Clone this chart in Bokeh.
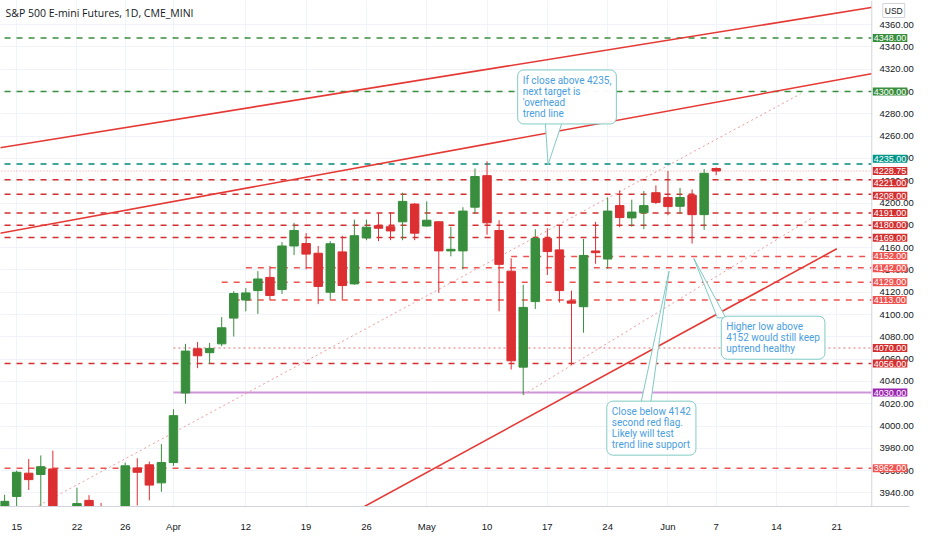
import pandas as pd
from bokeh.plotting import figure
from bokeh.models import (ColumnDataSource, FixedTicker, PrintfTickFormatter, Label, Range1d,
                          BoxAnnotation, Span)
from bokeh.embed import file_html
from bokeh.resources import INLINE

# ES (S&P 500 E-mini) daily bars
dates = ["2021-03-12", "2021-03-15", "2021-03-16", "2021-03-17", "2021-03-18", "2021-03-19",
         "2021-03-22", "2021-03-23", "2021-03-24", "2021-03-25", "2021-03-26", "2021-03-29",
         "2021-03-30", "2021-03-31", "2021-04-01", "2021-04-05", "2021-04-06", "2021-04-07",
         "2021-04-08", "2021-04-09", "2021-04-12", "2021-04-13", "2021-04-14", "2021-04-15",
         "2021-04-16", "2021-04-19", "2021-04-20", "2021-04-21", "2021-04-22", "2021-04-23",
         "2021-04-26", "2021-04-27", "2021-04-28", "2021-04-29", "2021-04-30", "2021-05-03",
         "2021-05-04", "2021-05-05", "2021-05-06", "2021-05-07", "2021-05-10", "2021-05-11",
         "2021-05-12", "2021-05-13", "2021-05-14", "2021-05-17", "2021-05-18", "2021-05-19",
         "2021-05-20", "2021-05-21", "2021-05-24", "2021-05-25", "2021-05-26", "2021-05-27",
         "2021-05-28", "2021-06-01", "2021-06-02", "2021-06-03", "2021-06-04", "2021-06-07"]
opens = [3927.6, 3936.8, 3957.7, 3956.5, 3961.5, 3915.0, 3905.0, 3933.3, 3905.0, 3885.0,
         3905.0, 3962.4, 3965.2, 3949.0, 3967.2, 4029.6, 4069.3, 4065.8, 4073.7, 4096.8,
         4113.0, 4121.5, 4133.3, 4122.4, 4161.5, 4163.7, 4155.0, 4120.0, 4156.2, 4127.5,
         4168.7, 4179.7, 4178.8, 4183.2, 4199.1, 4179.4, 4183.2, 4157.1, 4157.1, 4196.3,
         4224.6, 4175.4, 4138.9, 4052.8, 4111.6, 4168.1, 4158.0, 4112.2, 4107.0, 4157.0,
         4149.8, 4197.7, 4186.7, 4191.3, 4209.3, 4205.0, 4197.1, 4207.0, 4189.6, 4231.0]
highs = [3938.3, 3960.0, 3970.4, 3973.6, 3978.0, 3924.0, 3944.6, 3938.0, 3931.0, 3915.0,
         3967.2, 3971.1, 3968.1, 3983.8, 4015.0, 4073.7, 4075.4, 4074.5, 4097.7, 4120.9,
         4123.7, 4138.9, 4143.5, 4165.0, 4182.3, 4173.0, 4161.5, 4165.8, 4170.7, 4185.2,
         4185.2, 4191.0, 4191.9, 4209.3, 4200.0, 4201.5, 4183.5, 4178.8, 4196.3, 4231.0,
         4237.4, 4184.6, 4150.4, 4126.7, 4176.5, 4177.4, 4179.4, 4121.5, 4167.8, 4183.2,
         4205.0, 4211.3, 4203.0, 4210.8, 4215.9, 4228.7, 4213.6, 4212.2, 4230.4, 4232.0]
lows = [3915.0, 3918.0, 3942.6, 3925.0, 3900.0, 3880.0, 3895.0, 3895.0, 3870.0, 3850.0,
        3895.0, 3928.7, 3933.3, 3941.0, 3964.3, 4020.0, 4051.9, 4055.7, 4071.6, 4080.3,
        4102.9, 4100.6, 4112.8, 4118.5, 4153.3, 4140.6, 4109.3, 4113.7, 4113.7, 4126.7,
        4166.7, 4165.8, 4166.7, 4166.7, 4166.7, 4178.8, 4119.4, 4152.2, 4140.6, 4190.4,
        4171.6, 4102.9, 4050.7, 4028.0, 4105.0, 4135.4, 4110.7, 4054.8, 4083.7, 4145.5,
        4141.0, 4178.3, 4178.8, 4176.5, 4199.1, 4189.0, 4190.4, 4163.7, 4176.0, 4225.0]
closes = [3932.4, 3958.5, 3951.9, 3963.5, 3912.0, 3905.0, 3930.4, 3900.0, 3885.0, 3900.0,
          3964.3, 3958.5, 3947.0, 3967.2, 4009.3, 4067.2, 4063.0, 4069.6, 4088.1, 4118.9,
          4119.4, 4131.9, 4117.1, 4161.5, 4175.4, 4154.2, 4125.2, 4163.5, 4126.0, 4170.7,
          4178.3, 4177.4, 4175.0, 4201.5, 4173.0, 4184.6, 4157.1, 4158.5, 4192.8, 4223.8,
          4182.3, 4145.0, 4058.5, 4106.4, 4168.1, 4156.5, 4121.5, 4110.2, 4153.0, 4155.5,
          4192.8, 4187.0, 4191.9, 4197.7, 4200.6, 4196.8, 4205.0, 4189.6, 4226.7, 4228.75]

# time axis labels
tick_dates = ["2021-03-15", "2021-03-22", "2021-03-26", "2021-04-01", "2021-04-12", "2021-04-19",
              "2021-04-26", "2021-05-03", "2021-05-10", "2021-05-17", "2021-05-24", "2021-06-01",
              "2021-06-07", "2021-06-14", "2021-06-21"]
tick_labels = ["15", "22", "26", "Apr", "12", "19", "26", "May", "10", "17", "24", "Jun", "7", "14", "21"]
price_ticks = list(range(3940, 4380, 20))

# horizontal levels: price, kind, first day
level_prices = [4348, 4300, 4235, 4228.75, 4221, 4208, 4191, 4180, 4169,
                4152, 4142, 4129, 4113, 4070, 4056, 4030, 3962]
level_kinds = ["green", "green", "teal", "last", "red", "red", "red", "red", "red",
               "light", "light", "light", "light", "dot", "red", "purple", "light"]
level_starts = ["2021-03-11"] * 9 + ["2021-05-12", "2021-04-12", "2021-04-08", "2021-04-09",
                                     "2021-04-01", "2021-03-11", "2021-04-01", "2021-03-11"]

# trend lines: (day, price) -> (day, price)
trend_solid = [(("2021-03-11", 4248.5), ("2021-06-25", 4377.4)),
               (("2021-03-11", 4171.7), ("2021-06-25", 4318.2)),
               (("2021-04-22", 3917.0), ("2021-06-21", 4159.0))]
trend_dotted = [(("2021-03-15", 3918.0), ("2021-06-16", 4298.0)),
                (("2021-05-13", 4028.0), ("2021-06-17", 4187.0))]

# text notes: text anchor (bar, price), pointer tip and pointer base
callouts = [
    dict(text="If close above 4235,\nnext target is\n'overhead\ntrend line",
         left=43.54, top=4319.4, tip=(46.06, 4234.5), base=[(45.8, 4278), (47.4, 4278)]),
    dict(text="Higher low above\n4152 would still keep\nuptrend healthy",
         left=60.42, top=4098.5, tip=(58.14, 4150.4), base=[(60.1, 4097), (60.8, 4097)]),
    dict(text="Close below 4142\nsecond red flag.\nLikely will test\ntrend line support",
         left=50.93, top=4022.3, tip=(56.09, 4138.9), base=[(53.75, 4020), (54.56, 4020)]),
]

UP, DOWN = "#388e3c", "#dc2f32"
styles = {
    "green": dict(color="#388e3c", dash="6 6", width=1.5, tag="#388e3c"),
    "teal": dict(color="#00897b", dash="6 6", width=1.5, tag="#009688"),
    "last": dict(color="#ef9a9a", dash="1 2", width=1, tag="#d32f2f"),
    "red": dict(color="#d32f2f", dash="6 6", width=1.5, tag="#d32f2f"),
    "light": dict(color="#ef5350", dash="6 6", width=1.5, tag="#ef5350"),
    "dot": dict(color="#e57373", dash="2 3", width=1.2, tag="#d32f2f"),
    "purple": dict(color="#ce93d8", dash="solid", width=2, tag="#9c27b0"),
}

holidays = pd.to_datetime(["2021-04-02", "2021-05-31"])
days = pd.bdate_range("2021-03-11", "2021-06-30").drop(holidays)
pos = {d.strftime("%Y-%m-%d"): i for i, d in enumerate(days)}

W, H = 916, 534
scale_w = 38                      # width of the price scale strip
bars_visible = 72.24
x0 = pos["2021-03-15"] - 1.34
sep = x0 + bars_visible           # where the price scale starts
x1 = x0 + bars_visible * W / (W - scale_w)
y0, y1 = 3927.8, 4381.7
frame_h = H - 20


def spread(prices, gap):
    # push overlapping price tags apart, keeping each cluster centred
    order = sorted(range(len(prices)), key=lambda i: -prices[i])
    ys = [prices[i] for i in order]
    for _ in range(60):
        for k in range(len(ys) - 1):
            d = ys[k] - ys[k + 1]
            if d < gap:
                ys[k] += (gap - d) / 2
                ys[k + 1] -= (gap - d) / 2
    out = [0.0] * len(prices)
    for k, i in enumerate(order):
        out[i] = ys[k]
    return out


p = figure(width=W, height=H, x_range=Range1d(x0, x1), y_range=Range1d(y0, y1),
           y_axis_location="right", toolbar_location=None, output_backend="svg",
           min_border_left=0, min_border_top=0, min_border_right=0, min_border_bottom=20)
p.outline_line_color = None
p.background_fill_color = "white"

for g in (p.xgrid, p.ygrid):
    g.grid_line_color = "#f0f3fa"
p.xgrid.ticker = FixedTicker(ticks=[pos[d] for d in tick_dates])
p.ygrid.ticker = FixedTicker(ticks=price_ticks)

p.xaxis.ticker = FixedTicker(ticks=[pos[d] for d in tick_dates])
p.xaxis.major_label_overrides = {pos[d]: t for d, t in zip(tick_dates, tick_labels)}
p.yaxis.ticker = FixedTicker(ticks=price_ticks)
p.yaxis.formatter = PrintfTickFormatter(format="%.2f")
for ax in (p.xaxis, p.yaxis):
    ax.major_tick_line_color = None
    ax.minor_tick_line_color = None
    ax.major_label_text_font = "Liberation Sans"
    ax.major_label_text_font_size = "9.5px"
    ax.major_label_text_color = "#131722"
p.xaxis.axis_line_color = "#d1d4dc"
p.xaxis.major_label_standoff = 8
p.yaxis.axis_line_color = None
p.yaxis.major_label_standoff = -(scale_w - 2)   # labels sit inside the scale strip

# levels
for price, kind, start in zip(level_prices, level_kinds, level_starts):
    st = styles[kind]
    p.segment(x0=[pos[start]], y0=[price], x1=[sep], y1=[price], line_color=st["color"],
              line_dash=st["dash"], line_width=st["width"])

# trend lines
for (da, pa), (db, pb) in trend_dotted:
    p.line([pos[da], pos[db]], [pa, pb], line_color="#ef9a9a", line_dash="2 3", line_width=1)
for (da, pa), (db, pb) in trend_solid:
    p.line([pos[da], pos[db]], [pa, pb], line_color="#e53935", line_width=1.6)

# candles
xs = [pos[d] for d in dates]
src = ColumnDataSource(dict(
    x=xs, high=highs, low=lows,
    top=[max(o, c) for o, c in zip(opens, closes)],
    bottom=[min(o, c) for o, c in zip(opens, closes)],
    color=[UP if c >= o else DOWN for o, c in zip(opens, closes)],
))
p.segment(x0="x", y0="low", x1="x", y1="high", line_color="color", line_width=1, source=src)
p.vbar(x="x", width=0.7, top="top", bottom="bottom", fill_color="color", line_color="color", source=src)

# price scale strip covers anything drawn past the chart area
p.add_layout(BoxAnnotation(left=sep, fill_color="white", fill_alpha=1, line_color=None, level="glyph"))
p.add_layout(Span(location=sep, dimension="height", line_color="#d1d4dc", line_width=1))

# callouts
for c in callouts:
    (bx1, by1), (bx2, by2) = c["base"]
    p.patch([bx1, c["tip"][0], bx2], [by1, c["tip"][1], by2], fill_color="white",
            line_color="#80cbc4", line_width=1)
    p.add_layout(Label(x=c["left"], y=c["top"], text=c["text"], text_align="left", text_baseline="top",
                       text_font="Roboto", text_font_size="10px", text_color="#4a9ee0",
                       text_line_height=1.0, background_fill_color="white", background_fill_alpha=0.95,
                       border_line_color="#80cbc4", border_line_width=1, padding=5, border_radius=6))

# title
p.add_layout(Label(x=x0, y=y1, x_offset=5, y_offset=-5, text="S&P 500 E-mini Futures, 1D, CME_MINI",
                   text_align="left", text_baseline="top", text_font="Open Sans",
                   text_font_size="10.5px", text_color="#131722"))

# price tags on the scale
tag_y = spread(level_prices, 12.5 * (y1 - y0) / frame_h)
for price, ty, kind in zip(level_prices, tag_y, level_kinds):
    p.add_layout(Label(x=sep, y=ty, x_offset=1, text=f"{price:.2f}", text_align="left",
                       text_baseline="middle", text_font="Liberation Sans",
                       text_font_size="9px", text_color="white",
                       background_fill_color=styles[kind]["tag"], padding=1))
p.add_layout(Label(x=sep, y=y1, x_offset=11, y_offset=-3, text="USD", text_align="left",
                   text_baseline="top", text_font="Liberation Sans", text_font_size="8.5px",
                   text_color="#131722", background_fill_color="white", border_line_color="#d1d4dc",
                   padding=2))

open("out.html", "w").write(file_html(p, INLINE))
